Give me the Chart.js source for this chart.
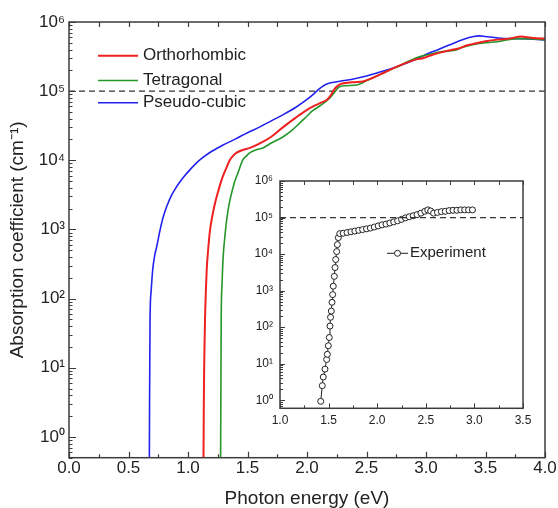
<!DOCTYPE html>
<html><head><meta charset="utf-8">
<script src="https://cdn.jsdelivr.net/npm/chart.js@4.4.1/dist/chart.umd.min.js"></script>
<style>
html,body{margin:0;padding:0;background:#fff;}
#wrap{position:relative;width:558px;height:508px;overflow:hidden;}
#main{position:absolute;left:0;top:0;}
#inset{position:absolute;left:240px;top:165px;}
</style></head><body>
<div id="wrap"><canvas id="main" width="558" height="508"></canvas><canvas id="inset" width="300" height="270"></canvas></div>
<script>
// ---------------- data ----------------
const seriesNames = ['Orthorhombic', 'Tetragonal', 'Pseudo-cubic'];
const insetName = 'Experiment';
const xTitle = 'Photon energy (eV)';
const yTitle = 'Absorption coefficient (cm\u207B\u00B9)';

const orthoE = [1.128,1.133,1.143,1.150,1.157,1.17,1.185,1.205,1.227,1.255,1.283,1.32,1.353,1.38,1.409,1.46,1.52,1.6,1.7,1.8,1.9,2.0,2.1,2.17,2.2,2.24,2.28,2.34,2.4,2.47,2.55,2.65,2.75,2.85,2.92,2.98,3.06,3.15,3.22,3.28,3.34,3.39,3.5,3.6,3.7,3.8,3.85,3.9,4.0];
const orthoA = [0.1,3.2,49,126,257,525,977,1580,2400,3630,5250,7590,1.02e4,1.17e4,1.29e4,1.41e4,1.51e4,1.74e4,2.19e4,3.02e4,4.07e4,5.37e4,6.61e4,7.59e4,8.71e4,1.12e5,1.26e5,1.32e5,1.35e5,1.38e5,1.55e5,1.86e5,2.24e5,2.63e5,2.88e5,3.02e5,3.39e5,3.72e5,3.98e5,4.17e5,4.57e5,4.79e5,5.25e5,5.56e5,5.75e5,6.17e5,6.03e5,5.89e5,5.75e5];

const tetraE = [1.272,1.276,1.279,1.286,1.294,1.31,1.325,1.345,1.367,1.39,1.42,1.462,1.49,1.521,1.57,1.63,1.7,1.8,1.87,1.94,2.0,2.05,2.12,2.19,2.23,2.27,2.32,2.42,2.5,2.6,2.7,2.76,2.85,2.95,3.05,3.12,3.2,3.26,3.3,3.34,3.45,3.6,3.76,3.9,4.0];
const tetraA = [0.1,3.2,49,158,363,794,1380,2290,3390,4790,6610,1.02e4,1.15e4,1.29e4,1.41e4,1.51e4,1.78e4,2.19e4,2.69e4,3.47e4,4.37e4,5.25e4,6.31e4,7.94e4,9.55e4,1.15e5,1.20e5,1.23e5,1.41e5,1.70e5,2.04e5,2.26e5,2.69e5,3.16e5,3.47e5,3.72e5,3.80e5,3.98e5,4.27e5,4.47e5,4.90e5,5.19e5,5.75e5,5.69e5,5.56e5];

const cubicE = [0.674,0.677,0.681,0.69,0.703,0.72,0.737,0.765,0.79,0.821,0.86,0.905,0.96,1.017,1.07,1.126,1.2,1.294,1.4,1.5,1.6,1.7,1.8,1.9,2.0,2.05,2.1,2.15,2.2,2.3,2.4,2.5,2.6,2.7,2.8,2.9,3.0,3.1,3.2,3.3,3.4,3.45,3.5,3.6,3.7,3.8,3.9,4.0];
const cubicA = [0.1,3.2,49,126,257,417,562,977,1480,2140,3090,4170,5620,7330,9120,1.10e4,1.35e4,1.66e4,2.04e4,2.51e4,3.02e4,3.72e4,4.57e4,5.75e4,7.59e4,8.91e4,1.07e5,1.23e5,1.32e5,1.41e5,1.51e5,1.66e5,1.86e5,2.09e5,2.40e5,2.82e5,3.39e5,3.98e5,4.68e5,5.50e5,6.17e5,6.31e5,6.17e5,5.89e5,5.75e5,5.75e5,5.62e5,5.50e5];

const expE = [1.419,1.435,1.445,1.463,1.48,1.487,1.497,1.507,1.514,1.52,1.528,1.535,1.542,1.548,1.559,1.566,1.573,1.583,1.59,1.60,1.615,1.65,1.69,1.73,1.77,1.81,1.85,1.89,1.93,1.97,2.01,2.05,2.09,2.13,2.17,2.21,2.25,2.29,2.33,2.37,2.41,2.45,2.49,2.52,2.55,2.58,2.62,2.66,2.70,2.74,2.78,2.82,2.86,2.90,2.94,2.98];
const expA = [0.93,2.5,4.3,7.1,13,18,31,52,107,186,275,479,776,1320,2450,4270,7080,1.17e4,1.82e4,2.82e4,3.63e4,3.72e4,3.89e4,4.07e4,4.27e4,4.47e4,4.68e4,4.90e4,5.13e4,5.50e4,5.89e4,6.31e4,6.61e4,7.08e4,7.59e4,8.13e4,8.91e4,9.77e4,1.05e5,1.12e5,1.20e5,1.32e5,1.48e5,1.62e5,1.51e5,1.32e5,1.38e5,1.45e5,1.48e5,1.55e5,1.58e5,1.58e5,1.62e5,1.62e5,1.62e5,1.62e5];

const refLevel = 1e5;              // dashed reference line
const mainXRange = [0, 4];
const insetXRange = [1, 3.5];
const mainYRange = [0.5, 1e6];
const insetYRange = [0.6, 1e6];
const decadeTicks = [1, 10, 100, 1000, 1e4, 1e5, 1e6];

// ---------------- helpers ----------------
const FONT = "'Liberation Sans', Arial, Helvetica, sans-serif";
const AXIS = '#3c3c3c';
const TXT = '#222';
const zip = (xs, ys) => xs.map((x, i) => ({x, y: ys[i]}));
const SUP = {'0':'\u2070','1':'\u00B9','2':'\u00B2','3':'\u00B3','4':'\u2074','5':'\u2075','6':'\u2076','7':'\u2077','8':'\u2078','9':'\u2079','-':'\u207B'};
const sup = n => String(n).split('').map(c => SUP[c]).join('');
const decadeLabel = v => '10' + sup(Math.round(Math.log10(v)));

const frameTicks = {
  id: 'frameTicks',
  afterDraw(chart, args, o) {
    const {ctx, chartArea: a, scales} = chart;
    const xs = scales.x, ys = scales.y;
    ctx.save();
    ctx.strokeStyle = AXIS;
    ctx.lineWidth = o.lw;
    ctx.beginPath();
    for (let v = xs.min; v <= xs.max + 1e-9; v += o.xMinorStep) {
      const px = Math.round(xs.getPixelForValue(v)) + 0.5;
      const r = v / o.xMajorStep;
      const isMajor = Math.abs(r - Math.round(r)) < 1e-6;
      const L = isMajor ? o.xMajorLen : o.xMinorLen;
      ctx.moveTo(px, a.bottom); ctx.lineTo(px, a.bottom - L);
      ctx.moveTo(px, a.top); ctx.lineTo(px, a.top + o.topLen);
    }
    const d0 = Math.floor(Math.log10(ys.min)), d1 = Math.ceil(Math.log10(ys.max));
    for (let d = d0; d <= d1; d++) for (let k = 1; k <= 9; k++) {
      const v = k * Math.pow(10, d);
      if (v < ys.min * 0.999 || v > ys.max * 1.001) continue;
      const py = Math.round(ys.getPixelForValue(v)) + 0.5;
      const L = k === 1 ? o.yMajorLen : o.yMinorLen;
      ctx.moveTo(a.left, py); ctx.lineTo(a.left + L, py);
    }
    ctx.stroke();
    ctx.lineWidth = o.frameLw;
    ctx.strokeRect(a.left, a.top, a.right - a.left, a.bottom - a.top);
    ctx.restore();
  }
};

const customLegend = {
  id: 'customLegend',
  afterDraw(chart, args, o) {
    const {ctx, chartArea: a} = chart;
    ctx.save();
    ctx.font = o.fontSize + 'px ' + FONT;
    ctx.textBaseline = 'middle';
    ctx.fillStyle = TXT;
    o.items.forEach((it, i) => {
      const ds = chart.data.datasets[it.ds];
      const y = a.top + it.dy;
      const x0 = a.left + o.lineX0, x1 = a.left + o.lineX1;
      ctx.strokeStyle = ds.borderColor;
      ctx.lineWidth = ds.borderWidth;
      ctx.beginPath(); ctx.moveTo(x0, y); ctx.lineTo(x1, y); ctx.stroke();
      if (o.marker) {
        ctx.beginPath();
        ctx.arc((x0 + x1) / 2, y, o.marker, 0, Math.PI * 2);
        ctx.fillStyle = '#fff'; ctx.fill();
        ctx.lineWidth = 1; ctx.stroke();
      }
      ctx.fillStyle = TXT;
      ctx.fillText(ds.label, a.left + o.textX, y);
    });
    ctx.restore();
  }
};

// ---------------- main chart ----------------
new Chart(document.getElementById('main'), {
  type: 'line',
  data: {
    datasets: [
      {label: seriesNames[0], data: zip(orthoE, orthoA), borderColor: '#ee2020', borderWidth: 2, cubicInterpolationMode: 'monotone'},
      {label: seriesNames[1], data: zip(tetraE, tetraA), borderColor: '#25962a', borderWidth: 1.6, cubicInterpolationMode: 'monotone'},
      {label: seriesNames[2], data: zip(cubicE, cubicA), borderColor: '#2222ee', borderWidth: 1.6, cubicInterpolationMode: 'monotone'},
      {label: 'ref', data: mainXRange.map(x => ({x, y: refLevel})), borderColor: '#333', borderWidth: 1.2, borderDash: [6, 4]}
    ]
  },
  options: {
    responsive: false, animation: false, devicePixelRatio: 1,
    layout: {padding: {top: 22, right: 13, left: 0, bottom: 0}},
    elements: {point: {radius: 0}},
    plugins: {
      legend: {display: false}, tooltip: {enabled: false},
      frameTicks: {lw: 1.2, frameLw: 1.5, xMinorStep: 0.25, xMajorStep: 0.5, xMajorLen: 6, xMinorLen: 3.5, topLen: 5, yMajorLen: 7, yMinorLen: 3.5},
      customLegend: {fontSize: 17, lineX0: 29, lineX1: 69, textX: 74, items: [{ds: 0, dy: 33.7}, {ds: 1, dy: 58.5}, {ds: 2, dy: 80.8}]}
    },
    scales: {
      x: {
        type: 'linear', min: mainXRange[0], max: mainXRange[1],
        ticks: {stepSize: 0.5, callback: v => v.toFixed(1), font: {family: FONT, size: 17}, color: TXT, padding: 0, maxRotation: 0, autoSkip: false},
        grid: {display: false, drawTicks: false}, border: {display: false},
        title: {display: true, text: xTitle, font: {family: FONT, size: 19, lineHeight: 1}, color: TXT, padding: {top: 0, bottom: 0}},
        afterFit(s) { s.height = 50.3; }
      },
      y: {
        type: 'logarithmic', min: mainYRange[0], max: mainYRange[1],
        afterBuildTicks(s) { s.ticks = decadeTicks.map(v => ({value: v})); },
        ticks: {callback: v => decadeLabel(v), font: {family: FONT, size: 17}, color: TXT, padding: 4, autoSkip: false},
        grid: {display: false, drawTicks: false}, border: {display: false},
        title: {display: true, text: yTitle, font: {family: FONT, size: 19}, color: TXT, padding: {top: 6, bottom: 0}},
        afterFit(s) { s.width = 69; }
      }
    }
  },
  plugins: [frameTicks, customLegend]
});

// ---------------- inset chart ----------------
new Chart(document.getElementById('inset'), {
  type: 'line',
  data: {
    datasets: [
      {label: 'ref', data: insetXRange.map(x => ({x, y: refLevel})), borderColor: '#333', borderWidth: 1.2, borderDash: [6, 4], pointRadius: 0},
      {label: insetName, data: zip(expE, expA), borderColor: '#222', borderWidth: 1, pointRadius: 3, pointBorderWidth: 1, pointBackgroundColor: '#fff', pointBorderColor: '#222'}
    ]
  },
  options: {
    responsive: false, animation: false, devicePixelRatio: 1,
    layout: {padding: {top: 16, right: 17, left: 0, bottom: 0}},
    plugins: {
      legend: {display: false}, tooltip: {enabled: false},
      frameTicks: {lw: 1, frameLw: 1.5, xMinorStep: 0.25, xMajorStep: 0.5, xMajorLen: 5, xMinorLen: 3, topLen: 4, yMajorLen: 5, yMinorLen: 3},
      customLegend: {fontSize: 15, lineX0: 107, lineX1: 128, textX: 130, marker: 3, items: [{ds: 1, dy: 72.3}]}
    },
    scales: {
      x: {
        type: 'linear', min: insetXRange[0], max: insetXRange[1],
        ticks: {stepSize: 0.5, callback: v => v.toFixed(1), font: {family: FONT, size: 12}, color: TXT, padding: 5, maxRotation: 0, autoSkip: false},
        grid: {display: false, drawTicks: false}, border: {display: false},
        afterFit(s) { s.height = 26.7; }
      },
      y: {
        type: 'logarithmic', min: insetYRange[0], max: insetYRange[1],
        afterBuildTicks(s) { s.ticks = decadeTicks.map(v => ({value: v})); },
        ticks: {callback: v => decadeLabel(v), font: {family: FONT, size: 12}, color: TXT, padding: 7, autoSkip: false},
        grid: {display: false, drawTicks: false}, border: {display: false},
        afterFit(s) { s.width = 40; }
      }
    }
  },
  plugins: [frameTicks, customLegend]
});
</script>
</body></html>
